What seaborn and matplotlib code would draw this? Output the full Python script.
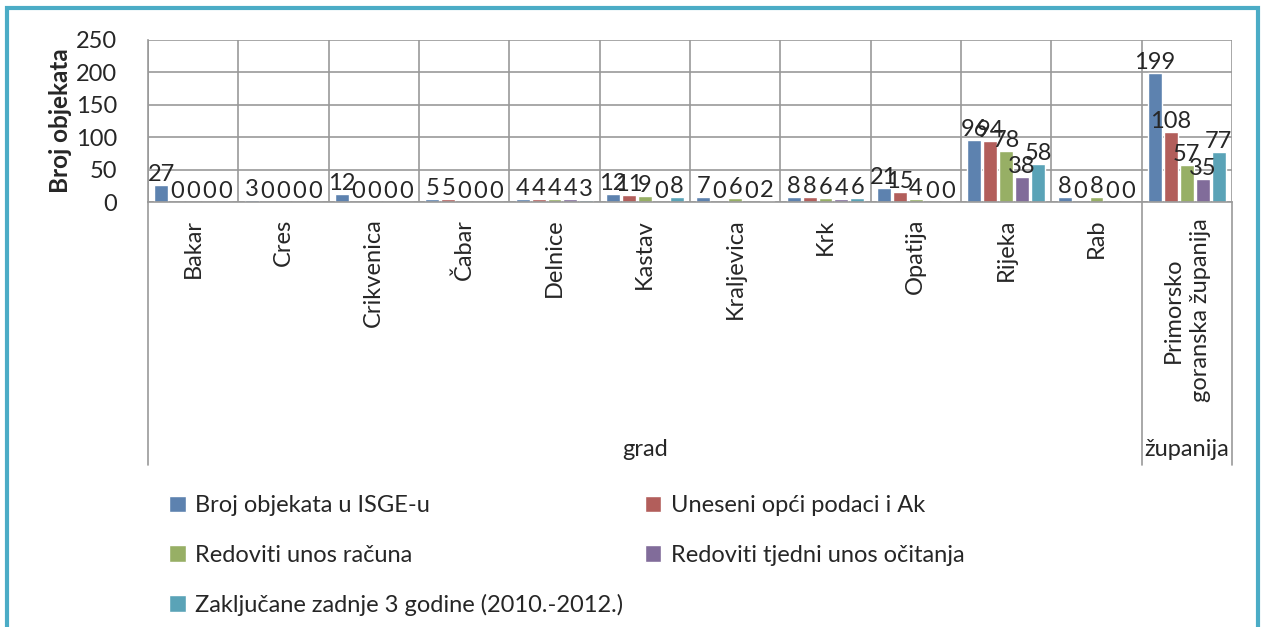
import matplotlib
matplotlib.use("Agg")
import matplotlib.pyplot as plt
import matplotlib.transforms as mtransforms
from matplotlib.patches import Rectangle
import seaborn as sns
import pandas as pd

# data
gradovi = ["Bakar", "Cres", "Crikvenica", "Čabar", "Delnice", "Kastav",
           "Kraljevica", "Krk", "Opatija", "Rijeka", "Rab",
           "Primorsko\ngoranska županija"]
serije = ["Broj objekata u ISGE-u", "Uneseni opći podaci i Ak",
          "Redoviti unos računa", "Redoviti tjedni unos očitanja",
          "Zaključane zadnje 3 godine (2010.-2012.)"]
broj_isge = [27, 3, 12, 5, 4, 12, 7, 8, 21, 96, 8, 199]
uneseni = [0, 0, 0, 5, 4, 11, 0, 8, 15, 94, 0, 108]
racuni = [0, 0, 0, 0, 4, 9, 6, 6, 4, 78, 8, 57]
ocitanja = [0, 0, 0, 0, 4, 0, 0, 4, 0, 38, 0, 35]
zakljucane = [0, 0, 0, 0, 3, 8, 2, 6, 0, 58, 0, 77]
boje = ["#4F81BD", "#C0504D", "#9BBB59", "#8064A2", "#4BACC6"]

rows = []
for s, vals in zip(serije, [broj_isge, uneseni, racuni, ocitanja, zakljucane]):
    for g, v in zip(gradovi, vals):
        rows.append({"grad": g, "serija": s, "vrijednost": v})
df = pd.DataFrame(rows)

sns.set_style("white")
plt.rcParams["font.family"] = ["Lato", "DejaVu Sans"]

W, H = 1261, 627
fig = plt.figure(figsize=(W / 100, H / 100), dpi=100)
ax = fig.add_axes([148 / W, 1 - 202 / H, (1232 - 148) / W, (202 - 40) / H])

sns.barplot(data=df, x="grad", y="vrijednost", hue="serija", palette=boje,
            width=0.88, gap=0.12, ax=ax, legend=True)

for c in ax.containers:
    ax.bar_label(c, fontsize=17, padding=0)

ax.set_ylim(0, 250)
ax.set_yticks(range(0, 251, 50))
ax.set_xlim(-0.5, len(gradovi) - 0.5)
ax.set_xlabel("")
ax.set_ylabel("Broj objekata", fontsize=17.5, fontweight="bold", labelpad=3)
ax.tick_params(axis="y", labelsize=17, length=0, pad=22)
ax.tick_params(axis="x", labelsize=17, length=0, pad=12)
ax.set_xticks(range(len(gradovi)))
ax.set_xticklabels(gradovi, rotation=90, va="top", ha="center",
                   multialignment="center", linespacing=1.4)

# grid
ax.set_xticks([i - 0.5 for i in range(len(gradovi) + 1)], minor=True)
ax.tick_params(which="minor", length=0)
ax.grid(axis="y", color="#999999", lw=1.2)
ax.grid(axis="x", which="minor", color="#999999", lw=1.2)
ax.grid(axis="x", which="major", visible=False)
ax.set_axisbelow(True)
for s in ["top", "right"]:
    ax.spines[s].set_visible(False)
for s in ["left", "bottom"]:
    ax.spines[s].set_color("#999999")
    ax.spines[s].set_linewidth(1.2)

# group lines and labels below axis
tr = mtransforms.blended_transform_factory(ax.transData, fig.transFigure)
for x in [-0.5, 10.5, 11.5]:
    ax.plot([x, x], [1 - 202 / H, 1 - 465 / H], transform=tr, color="#999999",
            lw=1.2, clip_on=False)
ax.text(5.0, 1 - 450 / H, "grad", transform=tr, ha="center", va="center",
        fontsize=17)
ax.text(11.0, 1 - 450 / H, "županija", transform=tr, ha="center",
        va="center", fontsize=17)

# legend, row-wise order
handles, labels = ax.get_legend_handles_labels()
ax.get_legend().remove()
order = [0, 2, 4, 1, 3]
fig.legend([handles[i] for i in order], [labels[i] for i in order],
           loc="upper left", bbox_to_anchor=(148 / W, 1 - 474 / H), ncol=2,
           frameon=False, fontsize=17, handlelength=0.7, handleheight=0.7,
           handletextpad=0.4, labelspacing=1.2, columnspacing=0.9)

fig.patches.append(Rectangle((7 / W, -0.1), (1258 - 7) / W, 1.1 - 8 / H,
                             transform=fig.transFigure, fill=False,
                             edgecolor="#4BACC6", lw=3))

fig.savefig("out.png", dpi=100)
